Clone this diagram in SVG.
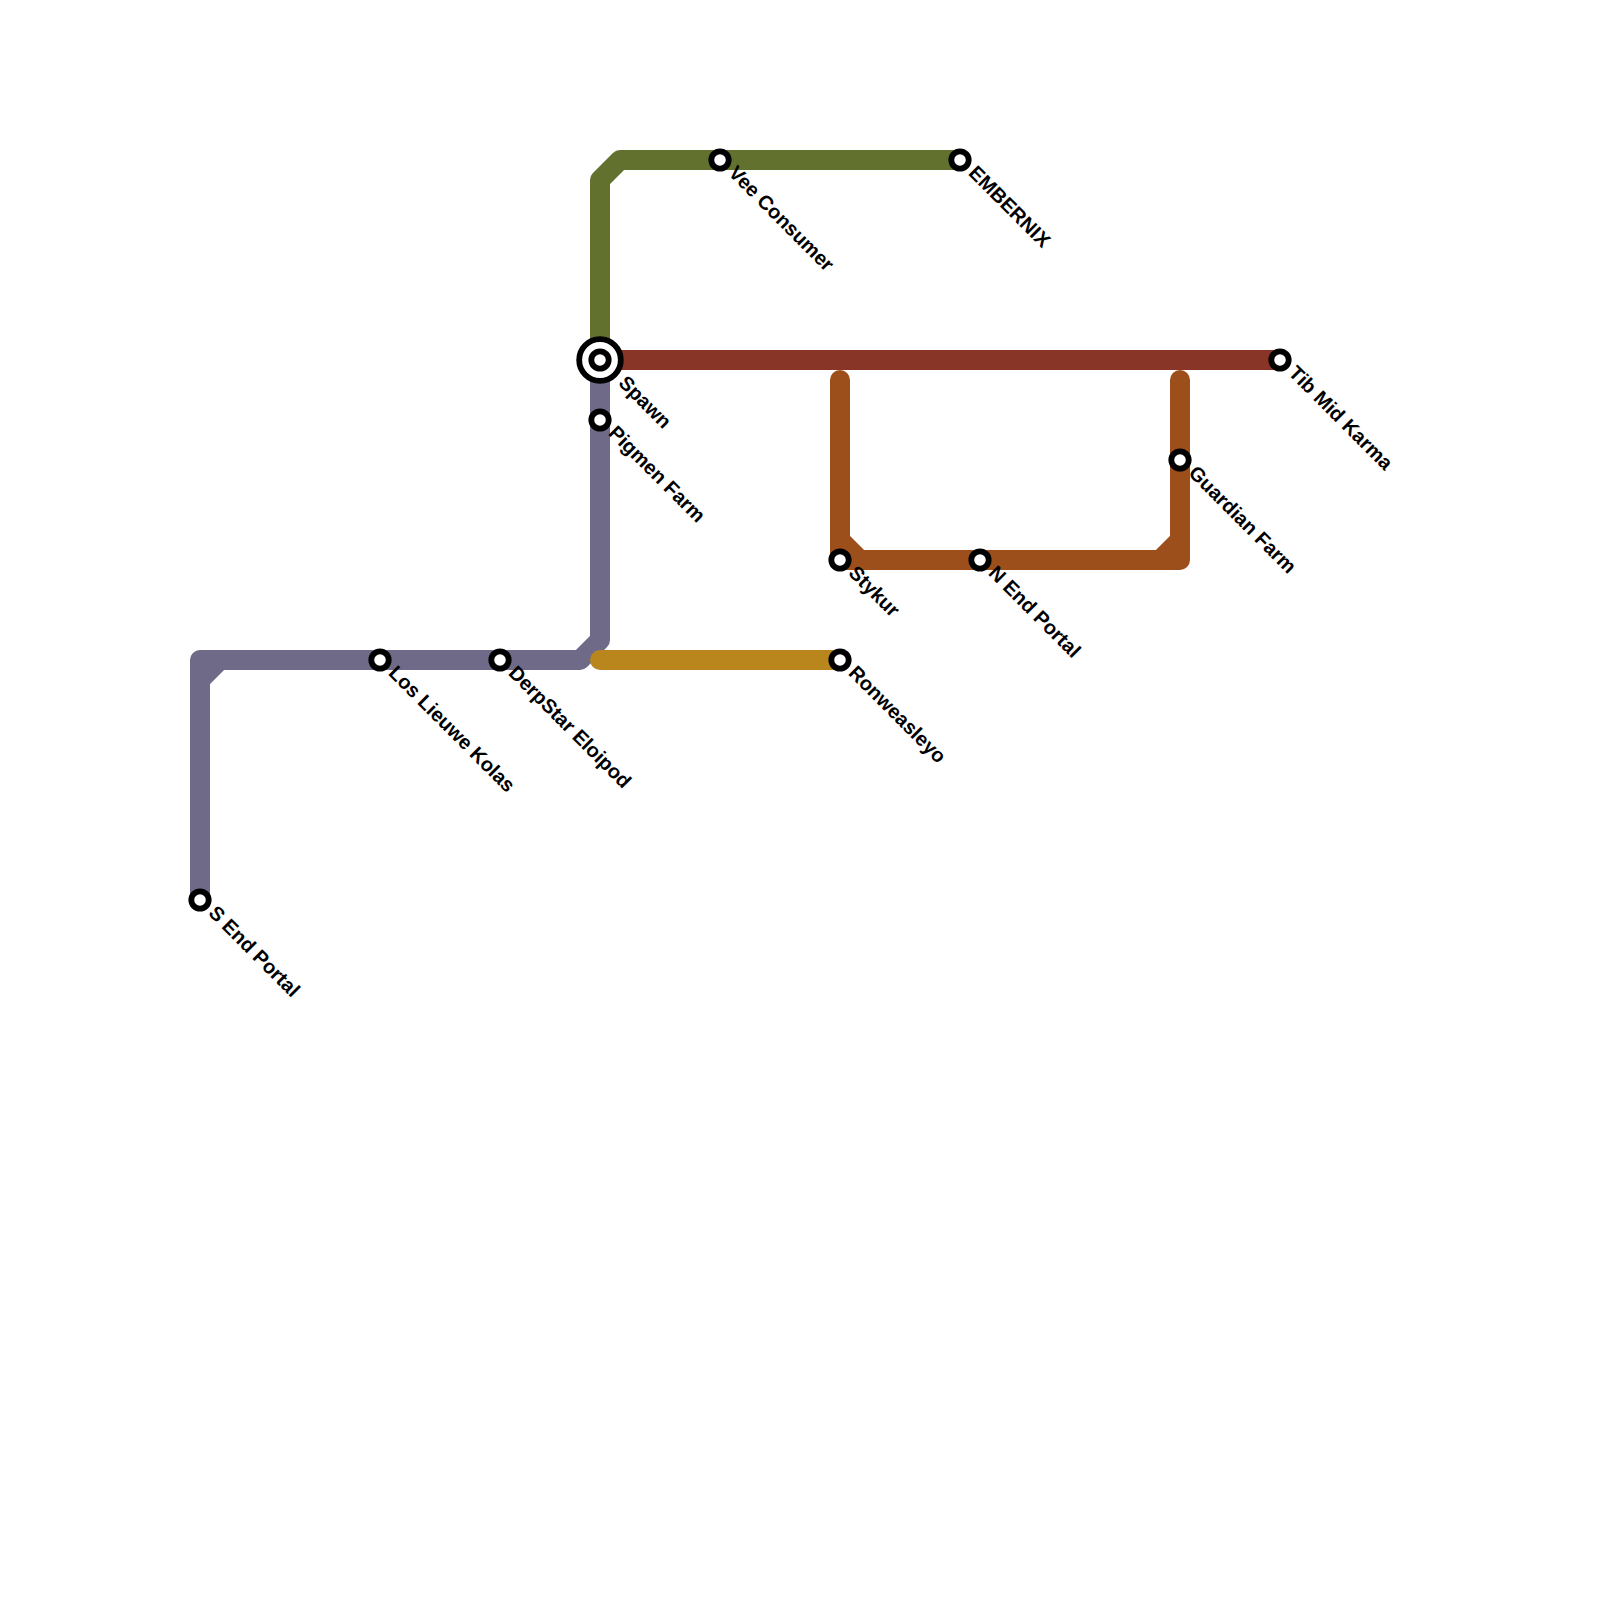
<svg xmlns="http://www.w3.org/2000/svg" width="1600" height="1600" viewBox="0 0 1600 1600">
<style>
.l{fill:none;stroke-width:20;stroke-linecap:round;stroke-linejoin:round}
.s{fill:#fff;stroke:#000;stroke-width:5.8}
text{font-family:"Liberation Sans",Arial,sans-serif;font-weight:700;font-size:20px;fill:#000;text-rendering:geometricPrecision}
</style>
<rect width="1600" height="1600" fill="#fff"/>
<g id="connectors">
<path class="l" stroke="#62722e" d="M600 360V180L620 160H960"/>
<path class="l" stroke="#6e6a88" d="M600 360V640L580 660H200V900M200 680L220 660"/>
<path class="l" stroke="#883426" d="M600 360H1280" style="stroke-linecap:butt"/>
<path class="l" stroke="#9c4f1b" d="M840 380V560H1180V380M840 540L860 560M1160 560L1180 540"/>
<path class="l" stroke="#b9861d" d="M600 660H840"/>
</g>
<g id="spawn"><circle cx="600" cy="360" r="20.8" class="s"/><circle cx="600" cy="360" r="8.7" class="s"/><text transform="translate(617.500 384) rotate(45)">Spawn</text></g>
<g id="pigmen"><circle cx="600" cy="420" r="8.700" class="s"/><text transform="translate(607.500 434) rotate(45)">Pigmen Farm</text></g>
<g id="vee"><circle cx="720" cy="160" r="8.700" class="s"/><text transform="translate(727.500 174) rotate(45)">Vee Consumer</text></g>
<g id="embernix"><circle cx="960" cy="160" r="8.700" class="s"/><text transform="translate(967.500 174) rotate(45)">EMBERNIX</text></g>
<g id="tib"><circle cx="1280" cy="360" r="8.700" class="s"/><text transform="translate(1287.500 374) rotate(45)">Tib Mid Karma</text></g>
<g id="guardian"><circle cx="1180" cy="460" r="8.700" class="s"/><text transform="translate(1187.500 474) rotate(45)">Guardian Farm</text></g>
<g id="stykur"><circle cx="840" cy="560" r="8.700" class="s"/><text transform="translate(847.500 574) rotate(45)">Stykur</text></g>
<g id="nend"><circle cx="980" cy="560" r="8.700" class="s"/><text transform="translate(987.500 574) rotate(45)">N End Portal</text></g>
<g id="ronweasleyo"><circle cx="840" cy="660" r="8.700" class="s"/><text transform="translate(847.500 674) rotate(45)">Ronweasleyo</text></g>
<g id="derpstar"><circle cx="500" cy="660" r="8.700" class="s"/><text transform="translate(507.500 674) rotate(45)">DerpStar Eloipod</text></g>
<g id="los"><circle cx="380" cy="660" r="8.700" class="s"/><text transform="translate(387.500 674) rotate(45)">Los Lieuwe Kolas</text></g>
<g id="send"><circle cx="200" cy="900" r="8.700" class="s"/><text transform="translate(207.500 914) rotate(45)">S End Portal</text></g>
</svg>
